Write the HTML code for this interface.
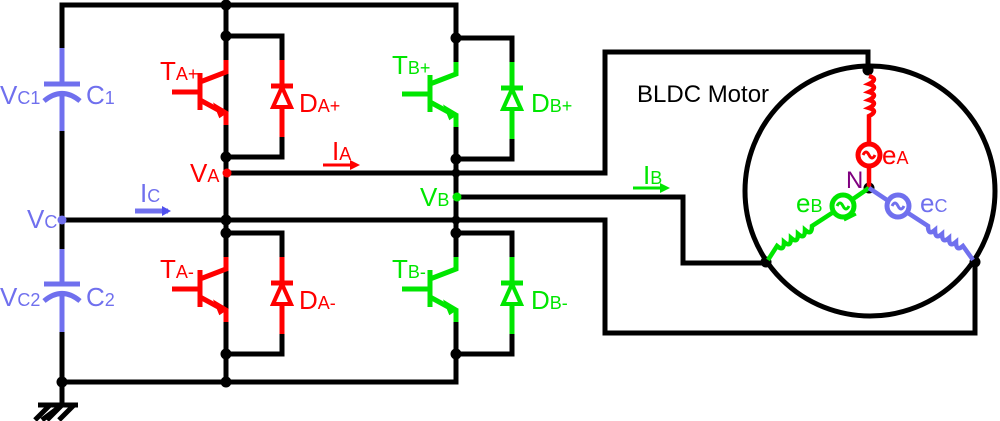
<!DOCTYPE html>
<html><head><style>
html,body{margin:0;padding:0;background:#fff;}
svg{display:block;}
text{font-family:"Liberation Sans",Arial,sans-serif;}
</style></head><body>
<svg width="1000" height="421" viewBox="0 0 1000 421" xmlns="http://www.w3.org/2000/svg">
<defs>
<g id="legR">
  <path d="M0,0 V24 M0,89 V121 M0,0 H56 V24 M56,101 V121 H0" stroke="#000" stroke-width="5" fill="none"/>
  <g stroke="red" stroke-width="5" fill="none">
    <path d="M0,24 V36 L-26,46 M-26,37 V74 M-54,56 H-26 M-26,64 L-4,76 M0,76 V89 M56,24 V101 M45,50 H67"/>
    <path d="M56,51 L47,71 H65 Z" stroke-width="4" fill="#fff"/>
    <path d="M-10,70 L0,76 L-6,80 Z" fill="red" stroke-width="3"/>
  </g>
  <circle cx="0" cy="0" r="5.5" fill="#000"/><circle cx="0" cy="121" r="5.5" fill="#000"/>
</g>
<g id="legG">
  <path d="M0,0 V24 M0,89 V121 M0,0 H56 V24 M56,101 V121 H0" stroke="#000" stroke-width="5" fill="none"/>
  <g stroke="#00e600" stroke-width="5" fill="none">
    <path d="M0,24 V36 L-26,46 M-26,37 V74 M-54,56 H-26 M-26,64 L-4,76 M0,76 V89 M56,24 V101 M45,50 H67"/>
    <path d="M56,51 L47,71 H65 Z" stroke-width="4" fill="#fff"/>
    <path d="M-10,70 L0,76 L-6,80 Z" fill="#00e600" stroke-width="3"/>
  </g>
  <circle cx="0" cy="0" r="5.5" fill="#000"/><circle cx="0" cy="121" r="5.5" fill="#000"/>
</g>
</defs>
<g stroke="#000" stroke-width="5" fill="none">
  <path d="M62,48 V5 H456 V36"/>
  <path d="M62,131 V249 M62,332 V405"/>
  <path d="M62,382 H456 V353"/>
  <path d="M226,5 V382"/>
  <path d="M456,157 V233"/>
  <path d="M62,220 H605 V333 H975 V262"/>
  <path d="M226,173 H605 V52 H868 V70"/>
  <path d="M456,197 H683 V263 H766"/>
  <circle cx="870" cy="191" r="125"/>
  <path d="M62,405 L42,420 M62,405 L47,420 M50,405 L35,420 M74,405 L59,420 M38,405 H78"/>
</g>
<g fill="#000"><circle cx="226" cy="5" r="5.5"/><circle cx="226" cy="220" r="5.5"/><circle cx="226" cy="382" r="5.5"/><circle cx="62" cy="382" r="5.5"/><circle cx="456" cy="173" r="4.5"/><circle cx="456" cy="220" r="4.5"/>
<circle cx="868" cy="70" r="5.5"/><circle cx="766" cy="262" r="5.5"/><circle cx="975" cy="262" r="5.5"/><circle cx="869" cy="188" r="5.5"/></g>
<use href="#legR" x="226" y="36"/>
<use href="#legR" x="226" y="233"/>
<use href="#legG" x="456" y="38"/>
<use href="#legG" x="456" y="233"/>
<g stroke="#7070ee" stroke-width="5" fill="none">
  <path d="M62,48 V84 M44,84 H80 M62,94 V131 M44,101 Q62,86 80,101"/>
  <path d="M62,249 V284 M44,284 H80 M62,294 V332 M44,301 Q62,286 80,301"/>
  <path d="M135,211 H168"/>
</g>
<path d="M162,206 L171,211 L162,216 Z" fill="#5050ee"/>
<circle cx="62" cy="220" r="4.5" fill="#7070ee"/>
<circle cx="227" cy="173" r="4.5" fill="red"/>
<circle cx="457" cy="197" r="4.5" fill="#00e600"/>
<path d="M323,165 H356" stroke="red" stroke-width="3"/><path d="M350,160 L360,165 L350,170 Z" fill="red"/>
<path d="M633,188 H666" stroke="#00e600" stroke-width="3"/><path d="M660,183 L670,188 L660,193 Z" fill="#00e600"/>
<g fill="none" stroke-width="4.5">
  <path d="M869,76 q10,3 0,8 q10,3 0,8 q10,3 0,8 q10,3 0,8 q10,3 0,8 V143 M869,166 V188" stroke="red"/>
  <circle cx="869" cy="155" r="11" stroke="red" stroke-width="5"/>
  <path d="M863,155 q3,-6 6,0 q3,6 6,0" stroke="red" stroke-width="3"/>
  <path d="M869,188 L853,199 M832,213 L812,226 q0,10 -7,4 q0,10 -7,4 q0,10 -7,4 q0,10 -7,4 q0,10 -7,4 L768,260" stroke="#00e600"/>
  <circle cx="843" cy="206" r="11" stroke="#00e600" stroke-width="5"/>
  <path d="M837,206 q3,-6 6,0 q3,6 6,0 M844,220 L856,214" stroke="#00e600" stroke-width="3"/>
  <path d="M869,188 L887,200 M908,213 L928,226 q0,10 7,4 q0,10 7,4 q0,10 7,4 q0,10 7,4 q0,10 7,4 L973,260" stroke="#7070ee"/>
  <circle cx="898" cy="206" r="11" stroke="#7070ee" stroke-width="5"/>
  <path d="M892,206 q3,-6 6,0 q3,6 6,0" stroke="#7070ee" stroke-width="3"/>
</g>
<g font-size="26">
<text x="0" y="104" fill="#7070ee">V<tspan font-size="18">C1</tspan></text>
<text x="86" y="104" fill="#7070ee">C<tspan font-size="18">1</tspan></text>
<text x="0" y="306" fill="#7070ee">V<tspan font-size="18">C2</tspan></text>
<text x="86" y="306" fill="#7070ee">C<tspan font-size="18">2</tspan></text>
<text x="27" y="228" fill="#7070ee">V<tspan font-size="18">C</tspan></text>
<text x="140" y="202" fill="#7070ee">I<tspan font-size="18">C</tspan></text>
<text x="160" y="80" fill="red">T<tspan font-size="18">A+</tspan></text>
<text x="299" y="112" fill="red">D<tspan font-size="18">A+</tspan></text>
<text x="160" y="278" fill="red">T<tspan font-size="18">A-</tspan></text>
<text x="299" y="309" fill="red">D<tspan font-size="18">A-</tspan></text>
<text x="190" y="182" fill="red">V<tspan font-size="18">A</tspan></text>
<text x="332" y="160" fill="red">I<tspan font-size="18">A</tspan></text>
<text x="392" y="74" fill="#00e600">T<tspan font-size="18">B+</tspan></text>
<text x="531" y="112" fill="#00e600">D<tspan font-size="18">B+</tspan></text>
<text x="392" y="278" fill="#00e600">T<tspan font-size="18">B-</tspan></text>
<text x="531" y="309" fill="#00e600">D<tspan font-size="18">B-</tspan></text>
<text x="420" y="206" fill="#00e600">V<tspan font-size="18">B</tspan></text>
<text x="643" y="184" fill="#00e600">I<tspan font-size="18">B</tspan></text>
<text x="882" y="164" fill="red">e<tspan font-size="18">A</tspan></text>
<text x="796" y="212" fill="#00e600">e<tspan font-size="18">B</tspan></text>
<text x="920" y="212" fill="#7070ee">e<tspan font-size="18">C</tspan></text>
<text x="846" y="188" fill="#800080" font-size="24">N</text>
<text x="637" y="102" fill="#000" font-size="24">BLDC Motor</text>
</g>
</svg>
</body></html>
